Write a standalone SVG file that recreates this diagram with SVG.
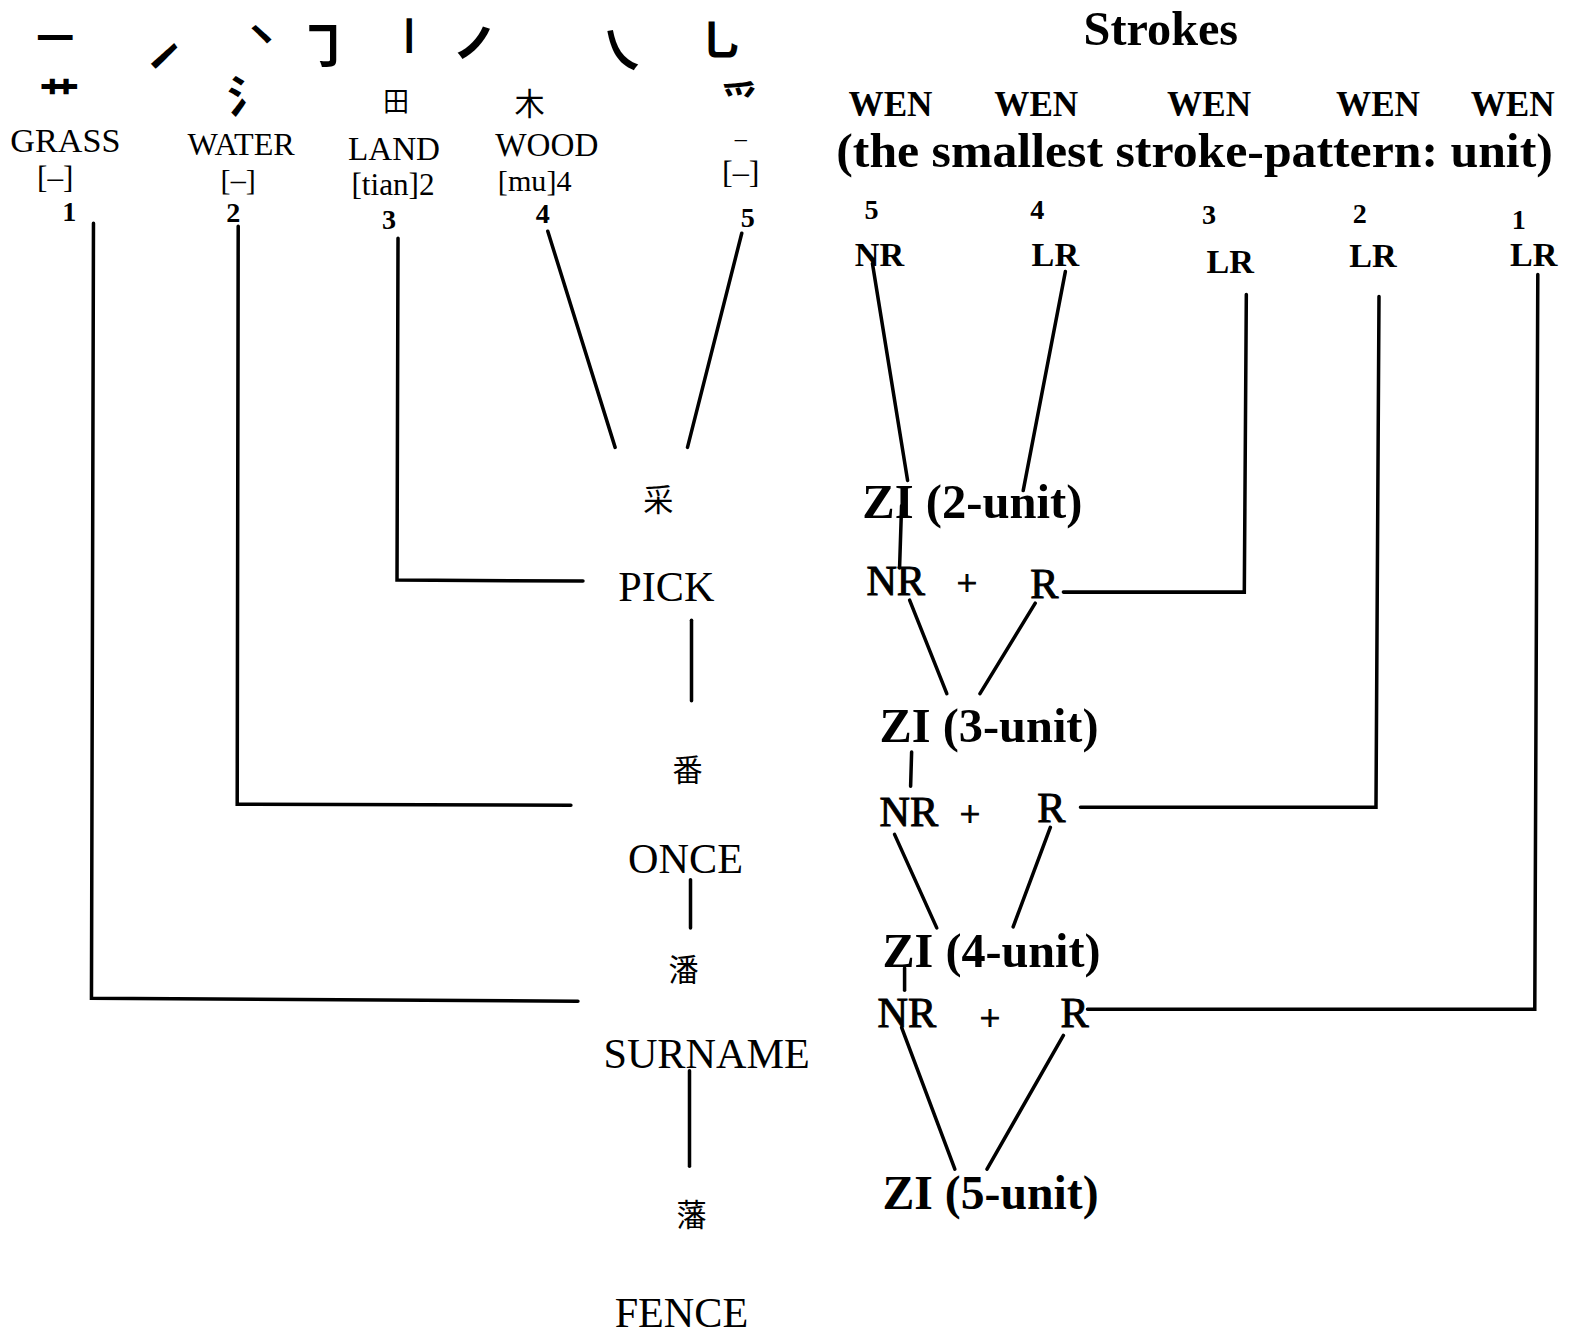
<svg xmlns="http://www.w3.org/2000/svg" width="1576" height="1335" viewBox="0 0 1576 1335">
<style>
.s{font-family:"Liberation Serif","Times New Roman",serif;fill:#000}
.b{font-weight:bold}
.md{stroke:#000;stroke-width:1}
.c{font-family:"Noto Sans CJK SC","Noto Sans CJK JP",sans-serif;fill:#000;text-anchor:middle;dominant-baseline:central}
.m{text-anchor:middle}
.ln{fill:none;stroke:#000;stroke-width:3.5;stroke-linecap:round;stroke-linejoin:miter}
</style>
<rect width="1576" height="1335" fill="#fff"/>
<g transform="scale(1.0051,1.0053)">
<g id="strokes-row" class="c" style="font-weight:700">
<text x="55" y="34" font-size="40">㇐</text>
<text x="162" y="53" font-size="46" transform="rotate(-28 162 53)">㇀</text>
<text x="260" y="32" font-size="40">㇔</text>
<text x="322" y="42" font-size="50">㇆</text>
<text x="407" y="33" font-size="40">㇑</text>
<text x="480" y="47" font-size="58">㇒</text>
<text x="618" y="47" font-size="50">㇏</text>
<text x="718" y="36" font-size="46">㇟</text>
</g>
<g id="comp-1"><text class="c" x="59" y="93" font-size="40" style="font-weight:700">艹</text><text class="s m" x="65" y="151" font-size="34">GRASS</text><text class="s m" x="55" y="187" font-size="31">[–]</text><text class="s b m" x="69" y="220" font-size="28">1</text></g>
<g id="comp-2"><text class="c" x="248" y="94" font-size="44" style="font-weight:700">氵</text><text class="s m" x="240" y="154" font-size="32">WATER</text><text class="s m" x="237" y="189" font-size="30">[–]</text><text class="s b m" x="232" y="221" font-size="28">2</text></g>
<g id="comp-3"><text class="c" x="394" y="99" font-size="26">田</text><text class="s m" x="392" y="159" font-size="33">LAND</text><text class="s m" x="391" y="194" font-size="31">[tian]2</text><text class="s b m" x="387" y="228" font-size="28">3</text></g>
<g id="comp-4"><text class="c" x="527" y="101" font-size="30">木</text><text class="s m" x="544" y="155" font-size="33">WOOD</text><text class="s m" x="532" y="190" font-size="30">[mu]4</text><text class="s b m" x="540" y="222" font-size="28">4</text></g>
<g id="comp-5"><text class="c" x="736" y="97" font-size="38" style="font-weight:700">爫</text><text class="s m" x="737" y="145" font-size="24">–</text><text class="s m" x="737" y="182" font-size="32">[–]</text><text class="s b m" x="744" y="226" font-size="28">5</text></g>

<g id="header">
<text class="s b m" x="1155" y="45" font-size="48">Strokes</text>
<text class="s b m" x="886" y="115" font-size="35">WEN</text>
<text class="s b m" x="1031" y="115" font-size="35">WEN</text>
<text class="s b m" x="1203" y="115" font-size="35">WEN</text>
<text class="s b m" x="1371" y="115" font-size="35">WEN</text>
<text class="s b m" x="1505" y="115" font-size="35">WEN</text>
<text class="s b" x="832" y="166" font-size="48" textLength="713" lengthAdjust="spacingAndGlyphs">(the smallest stroke-pattern: unit)</text>
</g>
<g id="wen-5"><text class="s b m" x="867" y="218" font-size="28">5</text><text class="s b m" x="875" y="265" font-size="34">NR</text></g>
<g id="wen-4"><text class="s b m" x="1032" y="218" font-size="28">4</text><text class="s b m" x="1050" y="265" font-size="34">LR</text></g>
<g id="wen-3"><text class="s b m" x="1203" y="223" font-size="28">3</text><text class="s b m" x="1224" y="272" font-size="34">LR</text></g>
<g id="wen-2"><text class="s b m" x="1353" y="222" font-size="28">2</text><text class="s b m" x="1366" y="266" font-size="34">LR</text></g>
<g id="wen-1"><text class="s b m" x="1511" y="228" font-size="28">1</text><text class="s b m" x="1526" y="265" font-size="34">LR</text></g>

<g id="char-cai"><text class="c" x="655" y="495" font-size="30">采</text><text class="s m" x="663" y="598" font-size="42">PICK</text></g>
<g id="char-fan"><text class="c" x="684" y="764" font-size="30">番</text><text class="s m" x="682" y="868" font-size="42">ONCE</text></g>
<g id="char-pan"><text class="c" x="680" y="963" font-size="30">潘</text><text class="s m" x="703" y="1062" font-size="42">SURNAME</text></g>
<g id="char-fan2"><text class="c" x="688" y="1207" font-size="30">藩</text><text class="s m" x="678" y="1320" font-size="42">FENCE</text></g>

<g id="zi-2"><text class="s b" x="858" y="515" font-size="48" textLength="219" lengthAdjust="spacingAndGlyphs">ZI (2-unit)</text></g>
<g id="sum-1"><text class="s md" x="862" y="592" font-size="42">NR</text><text class="s md m" x="962" y="592" font-size="36">+</text><text class="s md" x="1025" y="595" font-size="42">R</text></g>
<g id="zi-3"><text class="s b" x="875" y="738" font-size="48" textLength="218" lengthAdjust="spacingAndGlyphs">ZI (3-unit)</text></g>
<g id="sum-2"><text class="s md" x="875" y="822" font-size="42">NR</text><text class="s md m" x="965" y="822" font-size="36">+</text><text class="s md" x="1032" y="818" font-size="42">R</text></g>
<g id="zi-4"><text class="s b" x="878" y="962" font-size="48" textLength="217" lengthAdjust="spacingAndGlyphs">ZI (4-unit)</text></g>
<g id="sum-3"><text class="s md" x="873" y="1022" font-size="42">NR</text><text class="s md m" x="985" y="1025" font-size="36">+</text><text class="s md" x="1055" y="1022" font-size="42">R</text></g>
<g id="zi-5"><text class="s b" x="878" y="1203" font-size="48" textLength="215" lengthAdjust="spacingAndGlyphs">ZI (5-unit)</text></g>

<g id="connectors" class="ln">
<polyline points="93,222 91,993 575,996"/>
<polyline points="237,225 236,800 568,801"/>
<polyline points="396,237 395,577 580,578"/>
<line x1="545" y1="230" x2="612" y2="445"/>
<line x1="738" y1="232" x2="684" y2="445"/>
<line x1="688" y1="617" x2="688" y2="697"/>
<line x1="687" y1="875" x2="687" y2="923"/>
<line x1="686" y1="1065" x2="686" y2="1160"/>
<line x1="868" y1="262" x2="903" y2="478"/>
<line x1="1060" y1="270" x2="1018" y2="488"/>
<line x1="897" y1="503" x2="895" y2="565"/>
<polyline points="1058,589 1238,589 1240,293"/>
<line x1="905" y1="597" x2="942" y2="690"/>
<line x1="1030" y1="600" x2="975" y2="690"/>
<line x1="907" y1="748" x2="906" y2="782"/>
<polyline points="1075,803 1369,803 1372,295"/>
<line x1="890" y1="830" x2="932" y2="923"/>
<line x1="1045" y1="823" x2="1008" y2="922"/>
<line x1="900" y1="963" x2="900" y2="985"/>
<polyline points="1082,1004 1527,1004 1530,273"/>
<line x1="897" y1="1022" x2="950" y2="1163"/>
<line x1="1058" y1="1030" x2="982" y2="1163"/>
</g>
</g>
</svg>
